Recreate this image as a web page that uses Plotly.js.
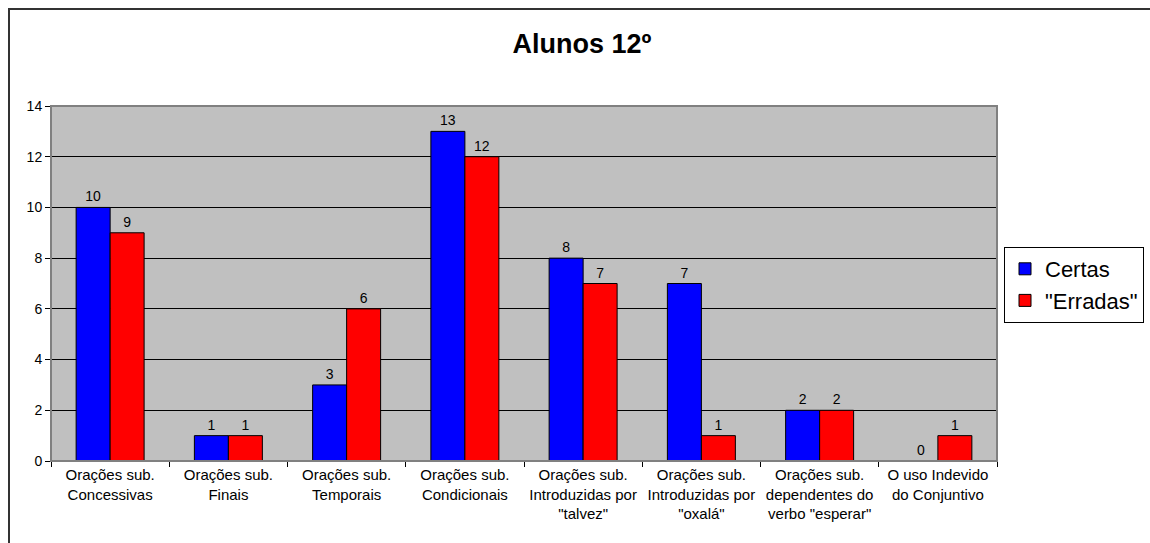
<!DOCTYPE html>
<html>
<head>
<meta charset="utf-8">
<script src="https://cdn.plot.ly/plotly-3.0.1.min.js"></script>
<style>html,body{margin:0;padding:0;background:#fff;}#chart{width:1150px;height:543px;}</style>
</head>
<body>
<div id="chart"></div>
<script>
const categories = [
  "Orações sub.<br>Concessivas",
  "Orações sub.<br>Finais",
  "Orações sub.<br>Temporais",
  "Orações sub.<br>Condicionais",
  "Orações sub.<br>Introduzidas por<br>\"talvez\"",
  "Orações sub.<br>Introduzidas por<br>\"oxalá\"",
  "Orações sub.<br>dependentes do<br>verbo \"esperar\"",
  "O uso Indevido<br>do Conjuntivo"
];
const certas = [10, 1, 3, 13, 8, 7, 2, 0];
const erradas = [9, 1, 6, 12, 7, 1, 2, 1];
const seriesNames = ["Certas", "\"Erradas\""];

const font = "Liberation Sans, Arial, sans-serif";
const mk = (name, vals, color) => ({
  type: "bar", name: name, x: categories, y: vals,
  text: vals.map(String), textposition: "outside", cliponaxis: false,
  textfont: {family: font, size: 14, color: "#000"},
  marker: {color: color, line: {color: "#000", width: 1}}
});
const data = [mk(seriesNames[0], certas, "#0000ff"), mk(seriesNames[1], erradas, "#ff0000")];

const x0 = 51, x1 = 997, yTop = 106, yBot = 461;
const px = p => (p - x0) / (x1 - x0);
const py = p => (yBot - p) / (yBot - yTop);

const layout = {
  width: 1150, height: 543,
  margin: {l: 51, r: 153, t: 106, b: 82, autoexpand: false},
  paper_bgcolor: "#fff", plot_bgcolor: "#c0c0c0",
  font: {family: font, size: 14, color: "#000"},
  title: {text: "<b>Alunos 12º</b>", font: {family: font, size: 27, color: "#000"},
    x: px(582), xref: "paper", xanchor: "center", y: 1 - 44 / 543, yref: "container", yanchor: "middle"},
  barmode: "group", bargap: 0.425, bargroupgap: 0,
  xaxis: {tickson: "boundaries", ticks: "outside", ticklen: 5, tickcolor: "#000",
    showline: true, linecolor: "#000", linewidth: 1, showgrid: false, automargin: false,
    tickfont: {family: font, size: 15}, fixedrange: true},
  yaxis: {range: [0, 14], dtick: 2, ticks: "outside", ticklen: 5, tickcolor: "#000",
    showline: true, linecolor: "#808080", gridcolor: "#000", gridwidth: 1, automargin: false,
    zeroline: false, tickfont: {family: font, size: 14}, fixedrange: true},
  showlegend: true,
  legend: {x: px(1004), y: py(247), xanchor: "left", yanchor: "top",
    bordercolor: "#000", borderwidth: 1, bgcolor: "#fff",
    font: {family: font, size: 22}, itemwidth: 30, tracegroupgap: 0},
  shapes: [
    {type: "rect", xref: "paper", yref: "paper", x0: px(9), x1: px(1160), y0: py(550), y1: py(9),
      line: {color: "#333", width: 2}, fillcolor: "rgba(0,0,0,0)", layer: "below"},
    {type: "rect", xref: "paper", yref: "paper", x0: 0, x1: 1, y0: 0, y1: 1,
      line: {color: "#808080", width: 2}, fillcolor: "rgba(0,0,0,0)"}
  ]
};
Plotly.newPlot("chart", data, layout, {displayModeBar: false, staticPlot: true});
</script>
</body>
</html>
